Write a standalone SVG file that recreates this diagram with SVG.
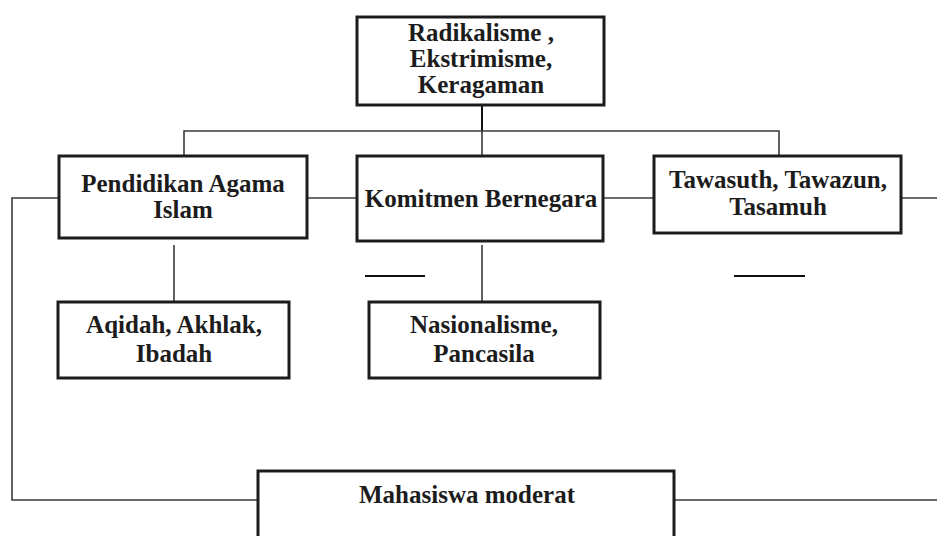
<svg xmlns="http://www.w3.org/2000/svg" width="937" height="536" viewBox="0 0 937 536">
<style>
.box{fill:#fff;stroke:#1c1c1c;stroke-width:3}
.t{font-family:"Liberation Serif","Times New Roman",serif;font-weight:bold;font-size:25px;fill:#1c1c1c;text-anchor:middle}
.c{fill:none;stroke:#3a3a3a;stroke-width:1.6}
.k{fill:none;stroke:#111;stroke-width:2}
</style>
<rect width="937" height="536" fill="#fff"/>
<g id="connectors">
<path class="k" d="M482 105 V131" stroke-width="3"/>
<path class="c" d="M184 156 V131 H779 V156"/>
<path class="c" d="M482 131 V156"/>
<path class="c" d="M307 198 H357"/>
<path class="c" d="M603 198 H654"/>
<path class="c" d="M901 198 H937"/>
<path class="c" d="M59 198 H12 V500 H258"/>
<path class="c" d="M674 500 H937"/>
<path class="c" d="M174 245 V302"/>
<path class="c" d="M482 245 V302"/>
<path class="k" d="M365 276 H425"/>
<path class="k" d="M734 276 H805"/>
</g>
<g id="n-top">
<rect class="box" x="357" y="17" width="247" height="88"/>
<text class="t" x="481" y="41">Radikalisme ,</text>
<text class="t" x="481" y="67">Ekstrimisme,</text>
<text class="t" x="481" y="93">Keragaman</text>
</g>
<g id="n-pai">
<rect class="box" x="59" y="156" width="248" height="82"/>
<text class="t" x="183" y="192">Pendidikan Agama</text>
<text class="t" x="183" y="218">Islam</text>
</g>
<g id="n-komitmen">
<rect class="box" x="357" y="156" width="246" height="85"/>
<text class="t" x="481" y="207">Komitmen Bernegara</text>
</g>
<g id="n-tawasuth">
<rect class="box" x="654" y="156" width="247" height="77"/>
<text class="t" x="778" y="188">Tawasuth, Tawazun,</text>
<text class="t" x="778" y="215">Tasamuh</text>
</g>
<g id="n-aqidah">
<rect class="box" x="58" y="302" width="231" height="76"/>
<text class="t" x="174" y="333">Aqidah, Akhlak,</text>
<text class="t" x="174" y="362">Ibadah</text>
</g>
<g id="n-nasionalisme">
<rect class="box" x="369" y="302" width="231" height="76"/>
<text class="t" x="484" y="333">Nasionalisme,</text>
<text class="t" x="484" y="362">Pancasila</text>
</g>
<g id="n-mahasiswa">
<rect class="box" x="258" y="471" width="416" height="80"/>
<text class="t" x="467" y="503">Mahasiswa moderat</text>
</g>
</svg>
